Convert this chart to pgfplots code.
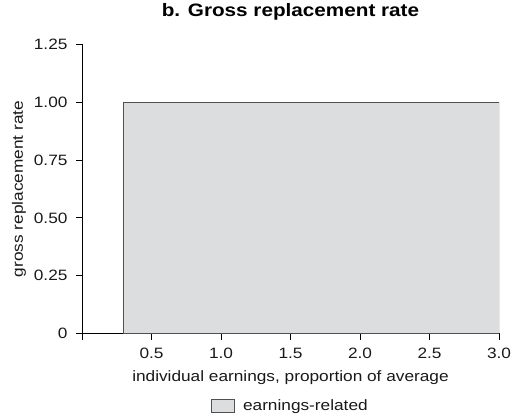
\documentclass[border=0pt]{standalone}
\usepackage{fontspec}
\setmainfont{Liberation Sans}[FakeStretch=1.15]
\usepackage{pgfplots}
\pgfplotsset{compat=1.18}
\definecolor{areafill}{HTML}{DCDDDF}
\definecolor{areadraw}{HTML}{505050}
\begin{document}
\begin{tikzpicture}
\begin{axis}[
  scale only axis,
  width=417pt, height=289pt,
  xmin=0, xmax=3, ymin=0, ymax=1.25,
  axis x line=bottom, axis y line=left,
  axis line style={-, black, line width=0.8pt},
  tick align=outside,
  major tick length=6pt,
  tick style={black, line width=0.8pt},
  xtick={0,0.5,1,1.5,2,2.5,3},
  xticklabels={,0.5,1.0,1.5,2.0,2.5,3.0},
  ytick={0,0.25,0.5,0.75,1,1.25},
  yticklabels={0,0.25,0.50,0.75,1.00,1.25},
  /pgf/number format/assume math mode=true,
  ticklabel style={font=\fontsize{15}{18}\selectfont, text=black!90},
  xticklabel style={anchor=base, yshift=-19pt},
  yticklabel style={anchor=east, xshift=-5pt},
  title={b. Gross replacement rate},
  title style={font=\bfseries\fontsize{18}{21}\selectfont, at={(0.5,1)}, anchor=base, yshift=21.5pt},
  xlabel={individual earnings, proportion of average},
  xlabel style={font=\fontsize{15}{18}\selectfont, text=black!90, at={(axis description cs:0.5,0)}, anchor=base, yshift=-48.5pt},
  ylabel={gross replacement rate},
  ylabel style={font=\fontsize{15}{18}\selectfont, text=black!90, at={(axis description cs:-0.151,0.5)}, anchor=center},
  legend style={draw=none, fill=none, at={(axis description cs:0.5,0)}, anchor=north, yshift=-62pt,
    font=\fontsize{15}{18}\selectfont, text=black!90, inner sep=2pt, column sep=6pt},
  legend image code/.code={\draw[#1] (0pt,-6.5pt) rectangle (23pt,6.5pt);},
]
\addplot[fill=areafill, draw=areadraw, line width=0.8pt] coordinates {(0.3,0) (0.3,1) (3,1) (3,0)} -- cycle;
\addlegendentry{earnings-related}
\coordinate (ll) at (rel axis cs:0,0);
\coordinate (ur) at (rel axis cs:1,1);
\end{axis}
\pgfresetboundingbox
\path[use as bounding box] ([shift={(-82pt,-84pt)}]ll) rectangle ([shift={(21pt,44.5pt)}]ur);
\end{tikzpicture}
\end{document}
